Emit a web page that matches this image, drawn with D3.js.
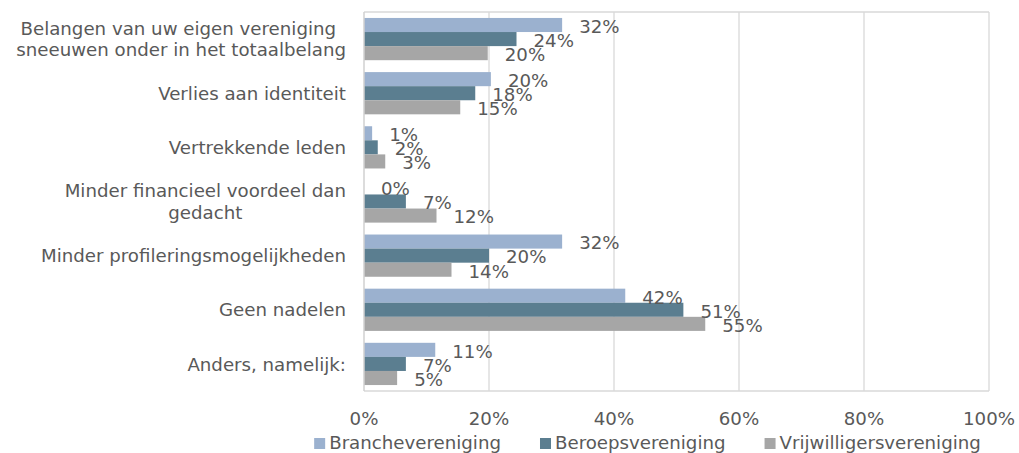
<!DOCTYPE html>
<html>
<head>
<meta charset="utf-8">
<script src="https://cdn.jsdelivr.net/npm/d3@7"></script>
<style>
  html, body { margin: 0; padding: 0; background: #fff; }
  svg { display: block; }
  text { font-family: "DejaVu Sans", Verdana, sans-serif; fill: #595959; }
</style>
</head>
<body>
<svg id="chart" width="1019" height="453"></svg>
<script>
// Categories (each entry is a list of lines for the axis label)
const categories = [
  ["Belangen van uw eigen vereniging ", "sneeuwen onder in het totaalbelang"],
  ["Verlies aan identiteit"],
  ["Vertrekkende leden"],
  ["Minder financieel voordeel dan", "gedacht"],
  ["Minder profileringsmogelijkheden"],
  ["Geen nadelen"],
  ["Anders, namelijk:"]
];
const seriesNames = ["Branchevereniging", "Beroepsvereniging", "Vrijwilligersvereniging"];
const brancheValues = [0.317, 0.203, 0.013, 0.000, 0.317, 0.418, 0.114];
const beroepsValues = [0.244, 0.178, 0.022, 0.067, 0.200, 0.511, 0.067];
const vrijwilligersValues = [0.198, 0.154, 0.034, 0.116, 0.140, 0.546, 0.053];
const seriesValues = [brancheValues, beroepsValues, vrijwilligersValues];
const seriesColors = ["#9bb1cf", "#5b7e90", "#a6a6a6"];
const tickValues = [0, 0.2, 0.4, 0.6, 0.8, 1.0];

const svg = d3.select("#chart");
const margin = { left: 364, right: 30, top: 12, bottom: 62 };
const W = 1019, H = 453;
const fontSize = 18.2;

const catKeys = categories.map((c, i) => i);
const x = d3.scaleLinear().domain([0, 1]).range([margin.left, W - margin.right]);
const y0 = d3.scaleBand().domain(catKeys).range([margin.top, H - margin.bottom])
  .paddingInner(0.22).paddingOuter(0.11);
const y1 = d3.scaleBand().domain(d3.range(seriesNames.length)).range([0, y0.bandwidth()]);
const pct = d3.format(".0%");

// Vertical gridlines
svg.append("g").selectAll("line").data(tickValues.slice(1)).join("line")
  .attr("x1", d => x(d)).attr("x2", d => x(d))
  .attr("y1", margin.top).attr("y2", H - margin.bottom)
  .attr("stroke", "#d9d9d9").attr("stroke-width", 1.3);

// Plot frame: top and bottom edges
svg.append("line").attr("x1", x(0)).attr("x2", x(1))
  .attr("y1", margin.top).attr("y2", margin.top)
  .attr("stroke", "#d9d9d9").attr("stroke-width", 1.3);
svg.append("line").attr("x1", x(0)).attr("x2", x(1))
  .attr("y1", H - margin.bottom).attr("y2", H - margin.bottom)
  .attr("stroke", "#d9d9d9").attr("stroke-width", 1.3);

// Bars
const groups = svg.append("g").selectAll("g").data(catKeys).join("g")
  .attr("transform", d => `translate(0,${y0(d)})`);

groups.each(function (ci) {
  const g = d3.select(this);
  const rows = seriesValues.map((vals, si) => ({ si, v: vals[ci] }));
  g.selectAll("rect").data(rows).join("rect")
    .attr("x", x(0))
    .attr("y", d => y1(d.si))
    .attr("width", d => x(d.v) - x(0))
    .attr("height", y1.bandwidth())
    .attr("fill", d => seriesColors[d.si]);
  g.selectAll("text").data(rows).join("text")
    .attr("x", d => x(d.v) + 17)
    .attr("y", d => y1(d.si) + y1.bandwidth() / 2 + 7.8)
    .attr("font-size", fontSize)
    .text(d => pct(d.v));
});

// Left axis line
svg.append("line").attr("x1", x(0)).attr("x2", x(0))
  .attr("y1", margin.top).attr("y2", H - margin.bottom)
  .attr("stroke", "#d0d0d0").attr("stroke-width", 1.5);

// Category labels: lines centered to each other, block right-aligned
const labelRight = 346;
const lineH = 21.5;
categories.forEach((lines, ci) => {
  const cy = y0(ci) + y0.bandwidth() / 2;
  const g = svg.append("g");
  const texts = lines.map((ln, li) => g.append("text")
    .attr("font-size", fontSize)
    .attr("text-anchor", "middle")
    .attr("xml:space", "preserve")
    .style("white-space", "pre")
    .attr("y", cy + (li - (lines.length - 1) / 2) * lineH + 6.6)
    .text(ln));
  const maxW = d3.max(texts, t => t.node().getComputedTextLength());
  texts.forEach(t => t.attr("x", labelRight - maxW / 2));
});

// X axis tick labels
svg.append("g").selectAll("text").data(tickValues).join("text")
  .attr("x", d => x(d)).attr("y", 425)
  .attr("text-anchor", "middle")
  .attr("font-size", fontSize)
  .text(d => pct(d));

// Legend
const legend = svg.append("g");
const sq = 11, sqGap = 4, itemGap = 39;
let cursor = 0;
seriesNames.forEach((name, si) => {
  const it = legend.append("g").attr("transform", `translate(${cursor},0)`);
  it.append("rect").attr("x", 0).attr("y", 438).attr("width", sq).attr("height", sq)
    .attr("fill", seriesColors[si]);
  const t = it.append("text").attr("x", sq + sqGap).attr("y", 448.5)
    .attr("font-size", fontSize).text(name);
  cursor += sq + sqGap + t.node().getComputedTextLength() + itemGap;
});
const legendW = cursor - itemGap;
legend.attr("transform", `translate(${647.5 - legendW / 2},0)`);
</script>
</body>
</html>
